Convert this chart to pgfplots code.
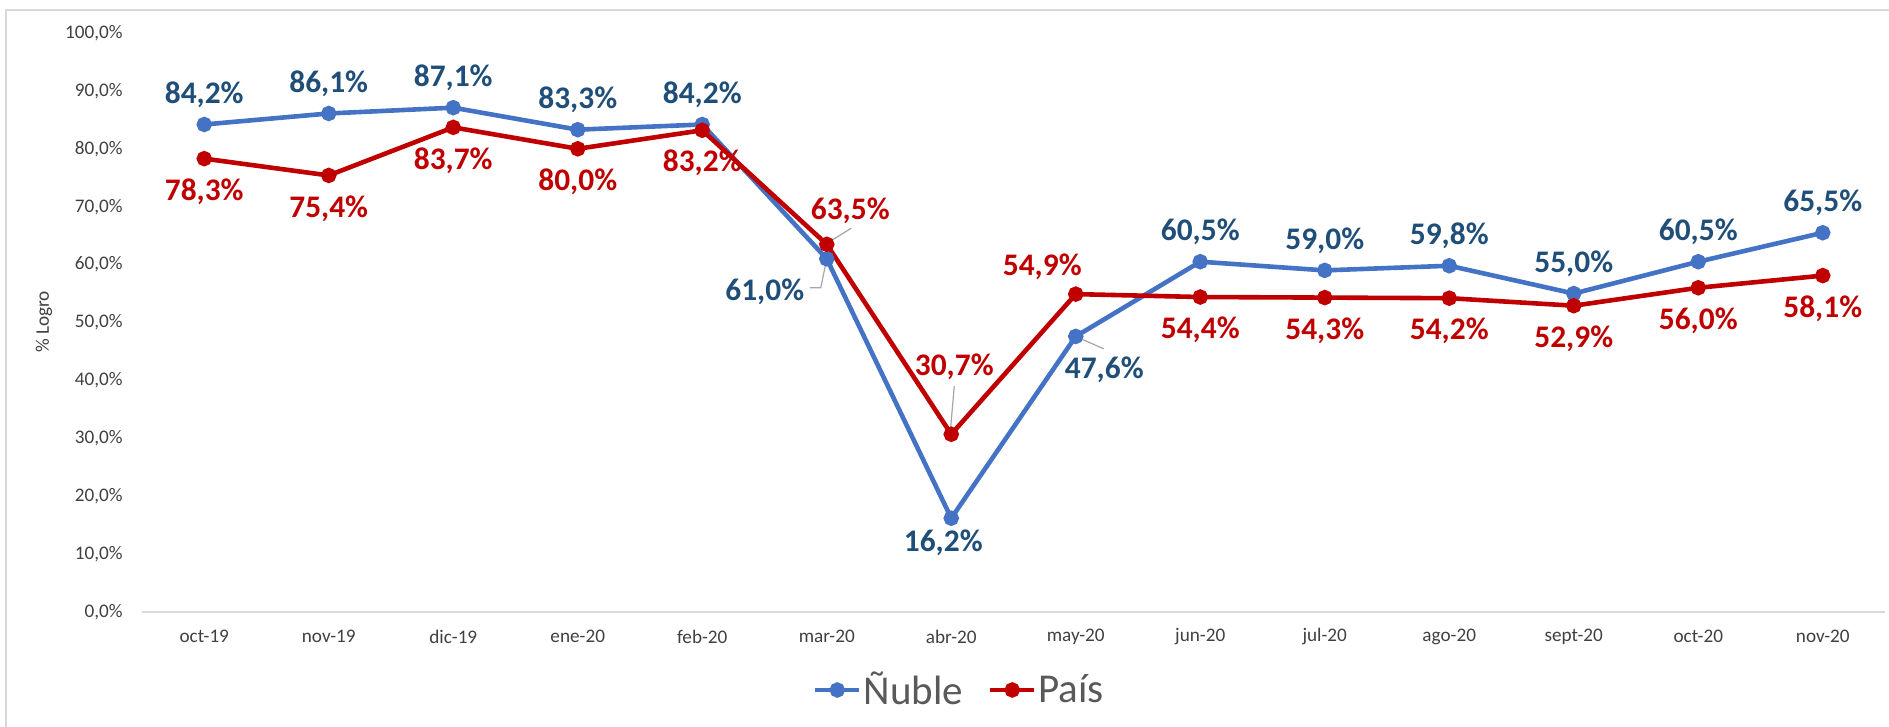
\documentclass[border=0pt]{standalone}
\usepackage{fontspec}
\setmainfont{Carlito}
\usepackage{pgfplots}
\usepackage{pgfplotstable}
\pgfplotsset{compat=1.18}
\definecolor{nub}{HTML}{4472C4}
\definecolor{nubl}{HTML}{1F4E79}
\definecolor{pais}{HTML}{C00000}
\definecolor{axisgray}{HTML}{D9D9D9}
\definecolor{txt}{HTML}{404040}
\definecolor{leader}{HTML}{A6A6A6}
\definecolor{legtxt}{HTML}{595959}

% x = month index, y = value, dx/dy = label offset (pt)
\pgfplotstableread{
x y dx dy
0 84.2 0 15
1 86.1 0 15
2 87.1 0 15
3 83.3 0 15
4 84.2 0 15
5 61.0 -31 -16.5
6 16.2 -4 -12.5
7 47.6 14.25 -16.8
8 60.5 0 15
9 59.0 0 15
10 59.8 0 15
11 55.0 0 15
12 60.5 0 15
13 65.5 0 15
}\nubtable

\pgfplotstableread{
x y dx dy
0 78.3 0 -16.5
1 75.4 0 -16.5
2 83.7 0 -16.5
3 80.0 0 -16.5
4 83.2 0 -16.5
5 63.5 11.75 17
6 30.7 1.5 33.6
7 54.9 -16.75 13.5
8 54.4 0 -16.5
9 54.3 0 -16.5
10 54.2 0 -16.5
11 52.9 0 -16.5
12 56.0 0 -16.5
13 58.1 0 -16.5
}\paistable

\begin{document}
\begin{tikzpicture}[x=1pt,y=1pt]
\useasboundingbox (-71,-57.5) rectangle (873.5,306);
\draw[axisgray, line width=1pt] (-68,-70) -- (-68,301) -- (890,301);
\begin{axis}[
  at={(0,0)}, anchor=south west,
  scale only axis, width=871.5pt, height=289.5pt,
  xmin=-0.5, xmax=13.5, ymin=0, ymax=100,
  xtick={0,...,13},
  xticklabels={oct-19,nov-19,dic-19,ene-20,feb-20,mar-20,abr-20,may-20,jun-20,jul-20,ago-20,sept-20,oct-20,nov-20},
  ytick={0,10,...,100},
  yticklabels={{0,0\%},{10,0\%},{20,0\%},{30,0\%},{40,0\%},{50,0\%},{60,0\%},{70,0\%},{80,0\%},{90,0\%},{100,0\%}},
  axis x line=bottom, axis y line=left,
  x axis line style={axisgray, line width=0.9pt, -},
  y axis line style={draw=none},
  major tick length=0pt, tick style={draw=none},
  y tick label style={font=\fontsize{9.6}{11}\selectfont, text=txt, inner sep=0pt, xshift=-9.5pt},
  x tick label style={font=\fontsize{9.6}{11}\selectfont, text=txt, inner sep=0pt, anchor=center, yshift=-12.35pt},
  clip=false,
  legend style={at={(0.469,-0.1347)}, anchor=center, draw=none, fill=none,
    font=\fontsize{20.5}{24}\selectfont\color{legtxt}, legend columns=2,
    inner sep=0pt, nodes={inner sep=1pt},
    /tikz/every even column/.append style={column sep=11.5pt}},
  legend image code/.code={\draw[#1, mark repeat=2, mark phase=2] plot coordinates {(0pt,0pt) (11pt,0pt) (22pt,0pt)};},
  nodes near coords={\pgfmathprintnumber[fixed,fixed zerofill,precision=1,use comma,assume math mode=true]{\pgfplotspointmeta}\%},
  visualization depends on={\thisrow{dx}\as\dx},
  visualization depends on={\thisrow{dy}\as\dy},
  every node near coord/.append style={anchor=center, xshift=\dx pt, yshift=\dy pt,
    font=\bfseries\fontsize{15.7}{18}\selectfont, inner sep=0pt},
]
\addplot[nub, line width=2.3pt, mark=*, mark size=2.7pt, mark options={solid},
  every node near coord/.append style={text=nubl}] table[x=x,y=y] {\nubtable};
\addlegendentry{Ñuble}
\addplot[pais, line width=2.3pt, mark=*, mark size=2.7pt, mark options={solid},
  every node near coord/.append style={text=pais}] table[x=x,y=y] {\paistable};
\addlegendentry{País}
% leader lines
\draw[leader, line width=0.6pt] (axis cs:5,61.0) -- ++(-3pt,-14.5pt) -- ++(-5.5pt,0pt);
\draw[leader, line width=0.6pt] ([shift={(1pt,-0.5pt)}]axis cs:7,47.6) -- ++(13pt,-5.7pt);
\draw[leader, line width=0.6pt] ([shift={(0.3pt,0.6pt)}]axis cs:5,63.5) -- ++(12pt,7.5pt);
\draw[leader, line width=0.6pt] ([shift={(-0.5pt,1pt)}]axis cs:6,30.7) -- ++(2pt,23pt);
\end{axis}
\node[rotate=90, font=\fontsize{9.6}{11}\selectfont, text=txt] at (-49,145) {\% Logro};
\end{tikzpicture}
\end{document}
